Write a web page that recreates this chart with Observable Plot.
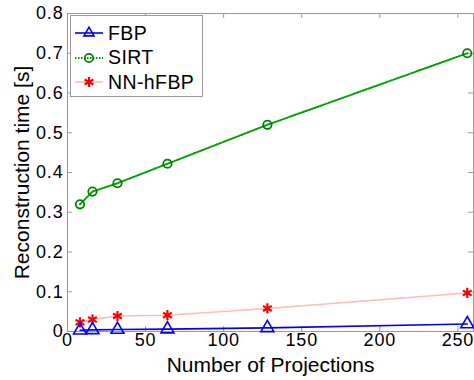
<!DOCTYPE html>
<html><head><meta charset="utf-8">
<script src="https://cdn.jsdelivr.net/npm/d3@7"></script>
<script src="https://cdn.jsdelivr.net/npm/@observablehq/plot@0.6"></script>
<style>
body{margin:0;background:#fff;font-family:"Liberation Sans",Arial,sans-serif;}
#wrap{position:relative;width:474px;height:380px;}
#legend{position:absolute;left:70px;top:15px;width:133px;height:82px;border:1px solid #999;background:#fff;box-sizing:border-box;}
.row{position:absolute;left:3px;height:24px;display:flex;align-items:center;font-size:19.5px;letter-spacing:0.4px;color:#000;}
.row svg{margin-right:4px;}
</style></head><body>
<div id="wrap"><div id="legend"></div></div>
<script>
const projections = [8, 16, 32, 64, 128, 256];
const fbp = [0.003, 0.004, 0.005, 0.006, 0.009, 0.019];
const sirt = [0.320, 0.352, 0.373, 0.422, 0.520, 0.700];
const nnhfbp = [0.023, 0.030, 0.039, 0.041, 0.058, 0.097];
const seriesNames = ["FBP", "SIRT", "NN-hFBP"];
const xTicks = [0, 50, 100, 150, 200, 250];
const yTicks = [0, 0.1, 0.2, 0.3, 0.4, 0.5, 0.6, 0.7, 0.8];

const styles = {
  "FBP": {line: "#0000ff", mark: "#0000ff", symbol: "triangle", dash: null, width: 1.6, r: 4.8, sw: 1.6},
  "SIRT": {line: "#00a000", mark: "#008000", symbol: "circle", dash: "1.5,1.5", width: 2, r: 4.2, sw: 1.8},
  "NN-hFBP": {line: "#ffbaba", mark: "#ff0000", symbol: "asterisk", dash: null, width: 1.6, r: 4.8, sw: 2.2}
};
const values = {"FBP": fbp, "SIRT": sirt, "NN-hFBP": nnhfbp};
const data = seriesNames.flatMap(s => projections.map((x, i) => ({series: s, x, y: values[s][i]})));

const xmin = 0, xmax = 260, ymin = 0, ymax = 0.8;
const xtl = 3.2, ytl = 0.0125;
const marks = [
  Plot.frame({stroke: "#999"}),
  Plot.ruleX(xTicks, {x: d => d, y1: ymin, y2: ymin + ytl, stroke: "#999"}),
  Plot.ruleX(xTicks, {x: d => d, y1: ymax, y2: ymax - ytl, stroke: "#999"}),
  Plot.ruleY(yTicks, {y: d => d, x1: xmin, x2: xmin + xtl, stroke: "#999"}),
  Plot.ruleY(yTicks, {y: d => d, x1: xmax, x2: xmax - xtl, stroke: "#999"}),
];
for (const s of ["NN-hFBP", "SIRT", "FBP"]) {
  const st = styles[s];
  const d = data.filter(v => v.series === s);
  marks.push(Plot.line(d, {x: "x", y: "y", stroke: st.line, strokeWidth: st.width, strokeDasharray: st.dash}));
  marks.push(Plot.dot(d, {x: "x", y: "y", symbol: st.symbol, r: st.r, stroke: st.mark, fill: "none", strokeWidth: st.sw}));
}

const chart = Plot.plot({
  width: 474, height: 380,
  marginLeft: 67, marginRight: 1, marginTop: 13, marginBottom: 49,
  style: {fontFamily: "Liberation Sans, Arial, sans-serif", fontSize: "18px", color: "#000", background: "#fff"},
  x: {domain: [xmin, xmax], ticks: xTicks, tickSize: 0, tickPadding: 2, label: "Number of Projections", labelAnchor: "center", labelArrow: "none", labelOffset: 40},
  y: {domain: [ymin, ymax], ticks: yTicks, tickSize: 0, tickPadding: 4, tickFormat: d => d === 0 ? "0" : d.toFixed(1), label: "Reconstruction time [s]", labelAnchor: "center", labelArrow: "none", labelOffset: 53},
  marks
});
chart.querySelectorAll('[aria-label="x-axis label"], [aria-label="y-axis label"]').forEach(t => t.setAttribute("font-size", "21"));
chart.querySelectorAll('[aria-label="x-axis label"] text, [aria-label="y-axis label"] text').forEach(t => t.style.fontSize = "21px");
chart.querySelectorAll('[aria-label="x-axis tick label"] text, [aria-label="y-axis tick label"] text').forEach(t => t.style.letterSpacing = "0.8px");
document.getElementById("wrap").prepend(chart);

// legend
const leg = document.getElementById("legend");
const ns = "http://www.w3.org/2000/svg";
const symTypes = {triangle: d3.symbolTriangle2, circle: d3.symbolCircle, asterisk: d3.symbolAsterisk};
seriesNames.forEach((s, i) => {
  const st = styles[s];
  const row = document.createElement("div");
  row.className = "row";
  row.style.top = (5 + i * 24.5) + "px";
  const svg = document.createElementNS(ns, "svg");
  svg.setAttribute("width", 30); svg.setAttribute("height", 14);
  const ln = document.createElementNS(ns, "line");
  ln.setAttribute("x1", 1); ln.setAttribute("x2", 29); ln.setAttribute("y1", 7); ln.setAttribute("y2", 7);
  ln.setAttribute("stroke", st.line); ln.setAttribute("stroke-width", st.width);
  if (st.dash) ln.setAttribute("stroke-dasharray", st.dash);
  svg.appendChild(ln);
  const g = document.createElementNS(ns, "path");
  g.setAttribute("transform", "translate(15,7)");
  g.setAttribute("d", d3.symbol(symTypes[st.symbol], Math.PI * st.r * st.r)());
  g.setAttribute("fill", "none"); g.setAttribute("stroke", st.mark); g.setAttribute("stroke-width", st.sw);
  svg.appendChild(g);
  row.appendChild(svg);
  row.appendChild(document.createTextNode(s));
  leg.appendChild(row);
});
</script>
</body></html>
